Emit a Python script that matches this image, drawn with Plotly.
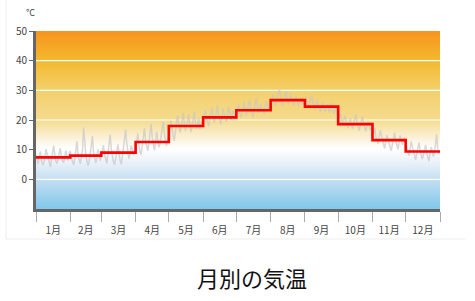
import plotly.graph_objects as go
import pandas as pd

# ---------------- data ----------------
months = ["1月", "2月", "3月", "4月", "5月", "6月", "7月", "8月", "9月", "10月", "11月", "12月"]
month_starts = ["2023-01-01", "2023-02-01", "2023-03-01", "2023-04-01", "2023-05-01", "2023-06-01",
                "2023-07-01", "2023-08-01", "2023-09-01", "2023-10-01", "2023-11-01", "2023-12-01"]
year_end = "2024-01-01"
monthly_avg = [7.4, 8.0, 9.0, 12.6, 18.0, 20.9, 23.3, 26.7, 24.5, 18.6, 13.2, 9.4]

daily_jan = [8.2, 6.5, 5.1, 7.8, 9.4, 6.2, 4.8, 5.5, 7.1, 10.2, 8.6, 6.3, 5.0, 4.2, 6.8, 9.1, 11.3, 8.4, 6.0, 5.3,
             7.2, 8.9, 10.5, 7.6, 6.1, 5.8, 8.3, 9.7, 7.0, 6.4, 8.8]
daily_feb = [9.5, 7.2, 5.6, 4.8, 6.9, 10.3, 12.8, 8.1, 6.0, 5.2, 7.4, 9.8, 17.5, 11.2, 8.3, 6.1, 4.6, 5.9, 8.7, 12.4,
             14.6, 9.0, 6.8, 5.5, 7.3, 10.1, 8.4, 6.2]
daily_mar = [7.8, 9.6, 11.5, 8.2, 6.4, 5.3, 8.9, 12.7, 15.1, 10.3, 7.6, 5.8, 4.9, 6.7, 9.2, 11.8, 8.5, 6.3, 5.1, 7.4,
             10.6, 13.9, 16.8, 12.1, 9.3, 7.0, 8.6, 11.4, 10.0, 8.1, 9.5]
daily_apr = [10.2, 12.8, 15.4, 11.6, 9.1, 8.4, 11.9, 14.7, 17.3, 13.0, 10.5, 9.6, 12.3, 15.8, 18.6, 14.2, 11.1, 9.8,
             12.6, 16.1, 13.4, 10.9, 12.0, 14.9, 17.8, 19.5, 15.2, 12.7, 11.3, 13.6]
daily_may = [15.1, 17.4, 19.8, 16.5, 14.2, 13.0, 16.7, 19.3, 21.5, 18.0, 15.8, 17.2, 20.1, 22.4, 18.9, 16.3, 17.8,
             19.6, 21.9, 18.4, 16.0, 17.5, 20.3, 22.8, 19.1, 17.0, 18.6, 20.7, 16.9, 18.2, 19.4]
daily_jun = [19.8, 21.3, 23.5, 20.6, 18.7, 17.9, 20.4, 22.8, 24.1, 21.0, 19.2, 20.7, 23.3, 25.0, 21.8, 19.5, 18.6,
             21.2, 23.9, 22.1, 20.3, 19.4, 21.7, 24.4, 22.6, 20.0, 21.4, 23.1, 22.3, 20.9]
daily_jul = [22.1, 23.8, 25.4, 22.6, 20.9, 21.7, 24.2, 26.1, 23.5, 21.4, 22.8, 25.0, 26.9, 24.3, 22.2, 21.0, 23.6,
             25.8, 27.4, 24.7, 22.5, 23.1, 25.5, 24.0, 22.7, 21.9, 24.6, 26.4, 25.2, 23.3, 24.8]
daily_aug = [25.3, 27.0, 28.6, 26.2, 24.8, 25.7, 27.9, 29.4, 30.2, 27.6, 25.9, 24.6, 26.5, 28.3, 29.7, 27.1, 25.4,
             26.8, 28.9, 27.3, 25.6, 24.9, 26.7, 28.1, 26.0, 24.7, 25.8, 27.5, 26.3, 25.1, 26.9]
daily_sep = [26.4, 27.8, 25.9, 24.3, 25.7, 27.2, 28.5, 26.0, 24.6, 23.4, 25.1, 26.8, 24.9, 23.2, 22.6, 24.4, 25.9,
             24.1, 22.8, 23.7, 25.3, 24.0, 22.5, 23.9, 25.6, 23.3, 22.1, 23.0, 24.2, 22.7]
daily_oct = [21.8, 20.4, 22.3, 19.6, 18.2, 19.9, 21.5, 20.1, 18.7, 17.3, 19.0, 20.6, 18.4, 17.1, 18.9, 20.3, 22.0,
             19.2, 17.6, 16.4, 18.1, 19.7, 21.2, 18.5, 17.0, 16.2, 17.8, 19.4, 18.0, 16.6, 17.5]
daily_nov = [16.8, 15.2, 17.4, 14.6, 13.1, 12.0, 14.3, 16.5, 15.0, 13.3, 11.6, 10.4, 12.7, 14.9, 13.5, 12.1, 10.8,
             9.6, 11.9, 14.2, 15.7, 13.0, 11.4, 10.1, 12.5, 14.8, 13.2, 11.7, 12.9, 14.0]
daily_dec = [12.3, 10.7, 9.2, 8.0, 10.5, 12.8, 11.1, 9.4, 7.6, 6.5, 8.8, 10.9, 12.4, 9.7, 7.9, 6.8, 8.3, 10.2, 11.6,
             9.0, 7.3, 6.1, 8.5, 10.8, 9.6, 7.7, 8.9, 11.3, 15.2, 10.0, 8.6]

y_ticks = [0, 10, 20, 30, 40, 50]
y_range = [-10, 50]
title_text = "月別の気温"
unit_text = "°C"

# ---------------- build ----------------
daily = (daily_jan + daily_feb + daily_mar + daily_apr + daily_may + daily_jun +
         daily_jul + daily_aug + daily_sep + daily_oct + daily_nov + daily_dec)
days = pd.date_range("2023-01-01", periods=len(daily), freq="D")

W, H = 475, 301
ML, MR, MT, MB = 36, 35, 31, 92
PW, PH = W - ML - MR, H - MT - MB

fig = go.Figure()

# gradient background
x0, x1 = month_starts[0], year_end
fig.add_trace(go.Scatter(
    x=[x0, x1, x1, x0, x0], y=[y_range[0], y_range[0], y_range[1], y_range[1], y_range[0]],
    mode="lines", line=dict(width=0), fill="toself",
    fillgradient=dict(type="vertical", start=y_range[0], stop=y_range[1],
                      colorscale=[[0.0, "#80c8ea"], [0.1667, "#c4dff2"], [0.25, "#e6eff8"],
                                  [0.34, "#ffffff"], [0.40, "#fbf1d8"], [0.5, "#f5db8e"],
                                  [0.667, "#f4d06c"], [0.833, "#f3b92e"], [1.0, "#f7941e"]]),
    hoverinfo="skip", showlegend=False))

# grid lines (white) above background
gx, gy = [], []
for t in y_ticks[:-1]:
    gx += [x0, x1, None]
    gy += [t, t, None]
fig.add_trace(go.Scatter(x=gx, y=gy, mode="lines", line=dict(color="white", width=1.2),
                         hoverinfo="skip", showlegend=False))

# daily temps
fig.add_trace(go.Scatter(x=days, y=daily, mode="lines",
                         line=dict(color="rgba(200,200,200,0.7)", width=1.5),
                         showlegend=False))

# monthly average steps
fig.add_trace(go.Scatter(x=month_starts + [year_end], y=monthly_avg + [monthly_avg[-1]],
                         mode="lines", line=dict(color="#ff0000", width=2.6, shape="hv"),
                         showlegend=False))

font_main = "Noto Sans CJK JP, Noto Sans, sans-serif"
fig.update_layout(
    width=W, height=H, margin=dict(l=ML, r=MR, t=MT, b=MB),
    paper_bgcolor="white", plot_bgcolor="white",
    font=dict(family=font_main, color="#444", size=10),
    xaxis=dict(type="date", range=[x0, x1], dtick="M1", tick0=x0, tickformat="%-m月",
               ticklabelmode="period", ticks="outside", ticklen=10, tickcolor="#aaaaaa",
               tickwidth=1, showgrid=False, zeroline=False,
               showline=True, linecolor="#666666", linewidth=3,
               tickfont=dict(size=10, color="#444")),
    yaxis=dict(range=y_range, tickvals=y_ticks, ticks="outside", ticklen=4, tickcolor="#666",
               tickwidth=1, showgrid=False, zeroline=False,
               showline=True, linecolor="#666666", linewidth=3,
               tickfont=dict(size=10, color="#444")),
)

def px_x(px):
    return (px - ML) / PW

def px_y(py):
    return 1 - (py - MT) / PH

fig.add_annotation(text=unit_text, xref="paper", yref="paper", x=px_x(30), y=px_y(13),
                   xanchor="center", yanchor="middle",
                   showarrow=False, font=dict(size=9, color="#444", family=font_main))
fig.add_annotation(text=title_text, xref="paper", yref="paper", x=px_x(252), y=px_y(277),
                   xanchor="center", yanchor="middle",
                   showarrow=False, font=dict(size=22, color="#111", family=font_main))

# faint outer frame (left & bottom)
fig.add_shape(type="line", xref="paper", yref="paper", x0=px_x(6), x1=px_x(6), y0=px_y(0), y1=px_y(239),
              line=dict(color="#eeeeee", width=1))
fig.add_shape(type="line", xref="paper", yref="paper", x0=px_x(6), x1=px_x(466), y0=px_y(239), y1=px_y(239),
              line=dict(color="#eeeeee", width=1))

fig.write_html("out.html")
